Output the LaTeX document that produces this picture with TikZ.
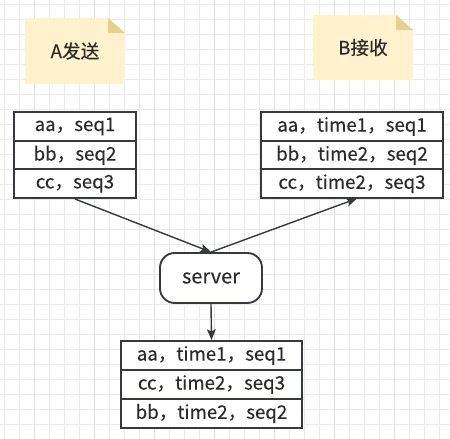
\documentclass[tikz,border=0pt]{standalone}
\usepackage{fontspec}
\setmainfont{Noto Sans CJK SC}[FakeBold=0.12]
\usetikzlibrary{arrows.meta}
\definecolor{gridminor}{HTML}{EBEBEB}
\definecolor{gridmajor}{HTML}{E0E0E0}
\definecolor{notefill}{HTML}{FFF2CC}
\definecolor{notefold}{HTML}{E6D28E}
\definecolor{linec}{HTML}{36393D}
\definecolor{textc}{HTML}{2B2B2B}
\tikzset{
  cell/.style={draw=linec, line width=1.4pt, fill=white, text=textc, inner sep=0pt,
    font=\fontsize{14pt}{16pt}\selectfont},
  leftcell/.style={cell, minimum width=91.5pt, minimum height=21.5pt},
  rightcell/.style={cell, minimum width=136.5pt, minimum height=21.5pt},
  botcell/.style={cell, minimum width=135.75pt, minimum height=21.75pt},
  srvbox/.style={draw=linec, line width=1.4pt, fill=white, text=textc, rounded corners=11pt,
    minimum width=76.5pt, minimum height=37.5pt, inner sep=0pt, font=\fontsize{15pt}{17pt}\selectfont},
  notetext/.style={text=textc, font=\fontsize{14pt}{16pt}\selectfont, inner sep=0pt},
  conn/.style={draw=linec, line width=1.05pt, -{Stealth[length=8pt,width=6.5pt,inset=1.5pt]}},
}
\begin{document}
\begin{tikzpicture}[x=0.75pt,y=-0.75pt]
\useasboundingbox (0,0) rectangle (450,439);
\fill[white] (0,0) rectangle (450,439);
% grid
\foreach \i in {0,...,29} {
  \draw[gridminor, line width=0.75pt] ({4+15*\i},0) -- ({4+15*\i},439);
}
\foreach \j in {0,...,29} {
  \draw[gridminor, line width=0.75pt] (0,{4.3+15*\j}) -- (450,{4.3+15*\j});
}
\foreach \i in {0,...,7} {
  \draw[gridmajor, line width=0.75pt] ({34+60*\i},0) -- ({34+60*\i},439);
}
% note A
\fill[notefill] (25,18) -- (108,18) -- (125,33) -- (125,84) -- (25,84) -- cycle;
\fill[notefold] (108,18) -- (125,33) -- (108,33) -- cycle;
\node[notetext] (na) at (75,51) {A发送};
% note B
\fill[notefill] (313,15) -- (396,15) -- (413,30) -- (413,80) -- (313,80) -- cycle;
\fill[notefold] (396,15) -- (413,30) -- (396,30) -- cycle;
\node[notetext] (nb) at (363,47.5) {B接收};
% left table
\node[leftcell] (la) at (75,126.5) {aa，seq1};
\node[leftcell] (lb) at (75,155.25) {bb，seq2};
\node[leftcell] (lc) at (75,183.75) {cc，seq3};
% right table
\node[rightcell] (ra) at (352,126.5) {aa，time1，seq1};
\node[rightcell] (rb) at (352,155.25) {bb，time2，seq2};
\node[rightcell] (rc) at (352,183.75) {cc，time2，seq3};
% server
\node[srvbox] (srv) at (211,278) {server};
% bottom table
\node[botcell] (ba) at (211.5,355.5) {aa，time1，seq1};
\node[botcell] (bb) at (211.5,384.5) {cc，time2，seq3};
\node[botcell] (bc) at (211.5,413.5) {bb，time2，seq2};
% connectors
\coordinate (rin) at (357,198.5);
\draw[conn] (lc.south) -- (srv.north);
\draw[conn] (srv.north) -- (rin);
\draw[conn] (srv.south) -- (ba.north);
\end{tikzpicture}
\end{document}
